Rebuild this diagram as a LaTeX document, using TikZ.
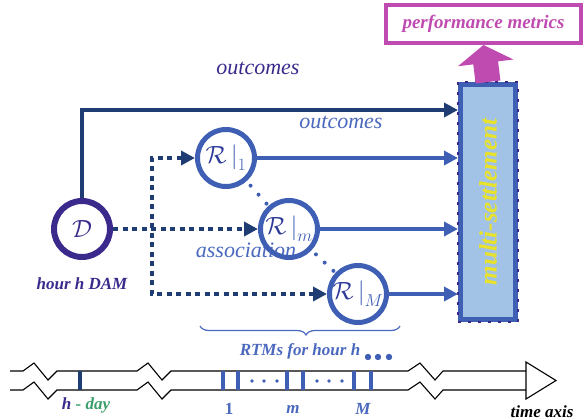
\documentclass[tikz,border=0pt]{standalone}
\usepackage{fontspec}
\setmainfont{Liberation Serif}
\usetikzlibrary{arrows.meta,decorations.pathreplacing,calc}

\definecolor{dampurple}{HTML}{3B2A8C}
\definecolor{navy}{HTML}{1F3D73}
\definecolor{rtmblue}{HTML}{3F5FB5}
\definecolor{labelblue}{HTML}{4A68BE}
\definecolor{scriptblue}{HTML}{2E3A9A}
\definecolor{metricpink}{HTML}{C04BB0}
\definecolor{settleyellow}{HTML}{E8E22A}
\definecolor{settlefill}{HTML}{A3C3E6}
\definecolor{daygreen}{HTML}{3A9E6A}

\newcommand{\rtmlabel}[1]{{\fontsize{24}{24}\selectfont$\color{scriptblue}\mathcal{R}\,\color{rtmblue}\bigg|_{#1}$}}

\tikzset{
    dam/.style={circle, draw=dampurple, line width=6pt, minimum size=56pt, inner sep=0pt},
    rtm/.style={circle, draw=rtmblue, line width=5pt, minimum size=57pt, inner sep=0pt},
    feed/.style={navy, line width=4.5pt, dash pattern=on 5pt off 4.5pt},
    outcome/.style={rtmblue, line width=4pt, -{Triangle[length=14pt,width=14pt]}},
    chain/.style={rtmblue, line width=4pt, line cap=round, dash pattern=on 0pt off 12pt, shorten <=6pt},
    lbl/.style={font=\fontsize{22}{22}\selectfont\itshape, inner sep=0pt},
    blbl/.style={font=\fontsize{17}{17}\selectfont\bfseries\itshape, inner sep=0pt},
    tick/.style={rtmblue, line width=4pt},
}

\begin{document}
\begin{tikzpicture}[x=1pt,y=-1pt]
    \useasboundingbox (0,0) rectangle (586,420);

    % market boxes
    \node[draw=metricpink, line width=4pt, minimum width=195pt, minimum height=38pt, inner sep=0pt,
          text=metricpink, font=\fontsize{19}{19}\selectfont\bfseries\itshape] (P) at (483.5,24) {performance metrics};
    \node[draw=rtmblue, fill=settlefill, line width=5pt, minimum width=55pt, minimum height=235pt, inner sep=0pt] (S) at (488,202) {};
    \draw[dampurple, line width=2pt, dash pattern=on 3pt off 7pt] (S.north west) rectangle (S.south east);
    \node[rotate=90, text=settleyellow, font=\fontsize{25}{25}\selectfont\bfseries\itshape, inner sep=0pt] (settleLabel) at (S) {multi-settlement};
    \draw[metricpink, line width=25pt, -{Triangle[length=18pt,width=55pt]}] (S.north) -- (P.south);

    % labels
    \node[lbl, text=dampurple] (outTop) at (258,68) {outcomes};
    \node[lbl, text=labelblue] (outMid) at (341,122) {outcomes};
    \node[lbl, text=labelblue] (assoc) at (246,250) {association};
    \node[blbl, text=dampurple] (damLabel) at (82,284) {hour h DAM};
    \node[blbl, text=labelblue] (rtmLabel) at (300,351) {RTMs for hour h};

    % DAM and RTMs
    \node[dam] (D) at (82,229) {\fontsize{32}{32}\selectfont$\color{dampurple}\mathcal{D}$};
    \node[rtm] (R1) at (226,158) {\rtmlabel{1}};
    \node[rtm] (Rm) at (289,229) {\rtmlabel{m}};
    \node[rtm] (RM) at (358,294) {\rtmlabel{M}};
    \coordinate (J) at (152,229);
    \coordinate (T) at (82,110);

    \draw[navy, line width=4.5pt, -{Triangle[length=14pt,width=14pt]}] (D) |- (S.west |- T);
    \draw[feed, -{Triangle[length=14pt,width=14pt]}] (D) -- (Rm);
    \draw[feed, {Triangle[length=14pt,width=14pt]}-{Triangle[length=14pt,width=14pt]}] (R1.west) -| (J |- RM) -- (RM.west);
    \draw[chain] (R1) -- (Rm);
    \draw[chain] (Rm) -- (RM);
    \foreach \r in {R1,Rm,RM}
        \draw[outcome] (\r) -- (\r -| S.west);

    \draw[labelblue, line width=1.2pt, decorate, decoration={brace, mirror, amplitude=9pt, aspect=0.53}] (200,326) -- (400,326);
    \foreach \x in {368,378,389}
        \fill[rtmblue] (\x,357) circle (3.2);

    % time axis
    \foreach \dy in {0,19}{
        \draw[line width=1.1pt, shift={(0,\dy)}] (10,371) -- (23,371) -- (34,363) -- (48,380) -- (57,371) -- (137,371)
            -- (148,363) -- (162,380) -- (171,371) -- (408,371) -- (420,363) -- (435,380) -- (443,371) -- (526,371);
    }
    \draw[line width=1.1pt] (526,362) -- (556,380.5) -- (526,399) -- cycle;
    \draw[navy, line width=4pt] (80,371) -- (80,390);
    \foreach \x in {223,238,287,303,354,371}
        \draw[tick] (\x,371) -- (\x,390);
    \foreach \x in {252,264,277,317,329,342}
        \fill[rtmblue] (\x,381) circle (1.8);

    \node[blbl] (dayLabel) at (86,405) {{\color{dampurple}h}\ {\color{daygreen}- day}};
    \node[blbl, text=labelblue, font=\fontsize{17}{17}\selectfont\bfseries] (one) at (229,409) {1};
    \node[blbl, text=labelblue] (em) at (293,409) {m};
    \node[blbl, text=labelblue] (bigM) at (363,409) {M};
    \node[blbl, text=black] (timeLabel) at (542,412) {time axis};
\end{tikzpicture}
\end{document}
